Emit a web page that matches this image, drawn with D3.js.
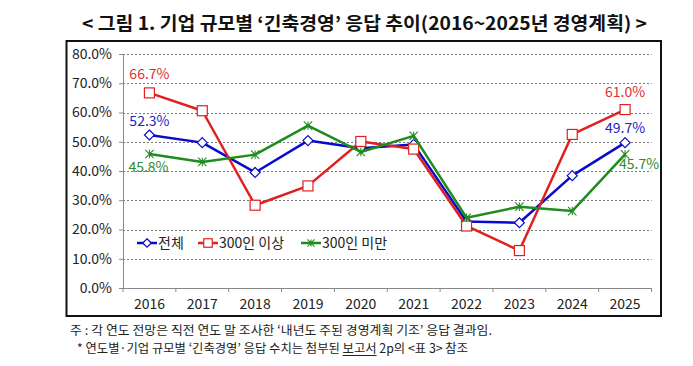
<!DOCTYPE html>
<html><head><meta charset="utf-8">
<script src="https://cdn.jsdelivr.net/npm/d3@7/dist/d3.min.js"></script>
<style>
html,body{margin:0;padding:0;background:#fff;}
svg{display:block;}
</style></head>
<body>
<svg id="c" width="693" height="366"></svg>
<script>
const years = ["2016","2017","2018","2019","2020","2021","2022","2023","2024","2025"];
const total = [52.3, 49.7, 39.5, 50.4, 47.8, 49.1, 22.7, 22.3, 38.4, 49.7];
const large = [66.7, 60.6, 28.3, 34.9, 50.1, 47.5, 21.2, 12.8, 52.5, 61.0];
const small = [45.8, 43.1, 45.6, 55.5, 46.5, 52.0, 24.0, 27.8, 26.3, 45.7];
const seriesNames = ["전체", "300인 이상", "300인 미만"];
const yTicks = [0, 10, 20, 30, 40, 50, 60, 70, 80];
const titleText = "< 그림 1. 기업 규모별 ‘긴축경영’ 응답 추이(2016~2025년 경영계획) >";
const note1 = "주 : 각 연도 전망은 직전 연도 말 조사한 ‘내년도 주된 경영계획 기조’ 응답 결과임.";
const note2 = "* 연도별·기업 규모별 ‘긴축경영’ 응답 수치는 첨부된 보고서 2p의 <표 3> 참조";
const underlined = "보고서";

const FONT = "'Noto Sans CJK KR','Noto Sans',sans-serif";
const svg = d3.select("#c");

const colors = ["#0a0acc", "#e02020", "#1e8c1e"];
const labelColors = ["#2323c0", "#e03030", "#2e8b2e"];

const L = 123, R = 651.5, T = 54, B = 288;
const x = d3.scaleBand().domain(years).range([L, R]).paddingInner(0).paddingOuter(0);
const y = d3.scaleLinear().domain([0, 80]).range([B, T]);
const cx = d => x(d) + x.bandwidth() / 2;

// title
svg.append("text").attr("x", 82).attr("y", 30)
  .attr("textLength", 565).attr("lengthAdjust", "spacingAndGlyphs")
  .attr("font-family", FONT).attr("font-size", 18).attr("font-weight", 700).attr("fill", "#111")
  .text(titleText);

// chart frame
svg.append("rect").attr("x", 66.5).attr("y", 41).attr("width", 594.5).attr("height", 275)
  .attr("fill", "#fff").attr("stroke", "#111").attr("stroke-width", 2);

// gridlines
svg.append("g").selectAll("line").data(yTicks.filter(d => d > 0)).join("line")
  .attr("x1", L).attr("x2", R).attr("y1", d => Math.round(y(d)) + 0.5).attr("y2", d => Math.round(y(d)) + 0.5)
  .attr("stroke", "#777").attr("stroke-width", 1).attr("stroke-dasharray", "2,2");

// y axis
const ya = svg.append("g").attr("transform", `translate(${L},0)`)
  .call(d3.axisLeft(y).tickValues(yTicks).tickSize(4).tickPadding(7).tickFormat(d => d.toFixed(1) + "%"));
ya.select(".domain").attr("stroke", "#888");
ya.selectAll(".tick line").attr("stroke", "#888");
ya.selectAll("text").attr("font-family", FONT).attr("font-size", 14).attr("fill", "#222");

// x axis
const xg = svg.append("g");
xg.append("line").attr("x1", L).attr("x2", R).attr("y1", B + 0.5).attr("y2", B + 0.5).attr("stroke", "#888");
const bounds = years.map(d => x(d)).concat([x(years[years.length - 1]) + x.bandwidth()]);
xg.selectAll("line.tk").data(bounds).join("line").attr("class", "tk")
  .attr("x1", d => d).attr("x2", d => d).attr("y1", B).attr("y2", B + 4).attr("stroke", "#888");
xg.selectAll("text").data(years).join("text")
  .attr("x", d => cx(d)).attr("y", 309).attr("text-anchor", "middle")
  .attr("font-family", FONT).attr("font-size", 14).attr("fill", "#222").text(d => d);

// series
const data = [total, large, small];
const line = d3.line().x((d, i) => cx(years[i])).y(d => y(d));

function marker(g, k, px, py, sc) {
  sc = sc || 1;
  if (k === 0) {
    const s = 5 * sc;
    g.append("path").attr("d", `M${px},${py-s}L${px+s},${py}L${px},${py+s}L${px-s},${py}Z`)
      .attr("fill", "#fff").attr("stroke", colors[0]).attr("stroke-width", 1.2);
  } else if (k === 1) {
    const s = 5 * sc;
    g.append("rect").attr("x", px - s).attr("y", py - s).attr("width", 2 * s).attr("height", 2 * s)
      .attr("fill", "#fff").attr("stroke", colors[1]).attr("stroke-width", 1.2);
  } else {
    const s = 4.2 * sc;
    g.append("path").attr("d", `M${px-s},${py-s}L${px+s},${py+s}M${px-s},${py+s}L${px+s},${py-s}M${px},${py-s}L${px},${py+s}`)
      .attr("fill", "none").attr("stroke", colors[2]).attr("stroke-width", 1.1);
  }
}

data.forEach((vals, k) => {
  const g = svg.append("g");
  g.append("path").datum(vals).attr("d", line).attr("fill", "none")
    .attr("stroke", colors[k]).attr("stroke-width", 2.5).attr("stroke-linejoin", "round");
  vals.forEach((v, i) => marker(g, k, cx(years[i]), y(v)));
});

// data labels
const labels = [
  {k: 1, i: 0, dx: 0, dy: -19, anchor: "middle"},
  {k: 0, i: 0, dx: 0, dy: -14, anchor: "middle"},
  {k: 2, i: 0, dx: -21, dy: 13, anchor: "start"},
  {k: 1, i: 9, dx: 0, dy: -18, anchor: "middle"},
  {k: 0, i: 9, dx: 0, dy: -15, anchor: "middle"},
  {k: 2, i: 9, dx: -6, dy: 10, anchor: "start"},
];
svg.append("g").selectAll("text").data(labels).join("text")
  .attr("x", d => cx(years[d.i]) + d.dx).attr("y", d => y(data[d.k][d.i]) + d.dy + 5)
  .attr("text-anchor", d => d.anchor)
  .attr("font-family", FONT).attr("font-size", 14).attr("fill", d => labelColors[d.k])
  .text(d => data[d.k][d.i].toFixed(1) + "%");

// legend
const legX = [137, 198, 301];
const legY = 243;
seriesNames.forEach((name, k) => {
  const g = svg.append("g");
  g.append("line").attr("x1", legX[k]).attr("x2", legX[k] + 20).attr("y1", legY).attr("y2", legY)
    .attr("stroke", colors[k]).attr("stroke-width", 2.5);
  marker(g, k, legX[k] + 10, legY, 0.85);
  g.append("text").attr("x", legX[k] + 21).attr("y", legY + 5)
    .attr("font-family", FONT).attr("font-size", 14).attr("fill", "#222").text(name);
});

// footnotes
svg.append("text").attr("x", 70).attr("y", 335)
  .attr("textLength", 422).attr("lengthAdjust", "spacingAndGlyphs")
  .attr("font-family", FONT).attr("font-size", 12.5).attr("fill", "#222").text(note1);
const n2 = svg.append("text").attr("x", 77).attr("y", 353)
  .attr("textLength", 391).attr("lengthAdjust", "spacingAndGlyphs")
  .attr("font-family", FONT).attr("font-size", 12.5).attr("fill", "#222").text(note2);
// underline under "보고서"
try {
  const node = n2.node();
  const i0 = note2.indexOf(underlined), i1 = i0 + underlined.length - 1;
  const xs = node.getStartPositionOfChar(i0).x, xe = node.getEndPositionOfChar(i1).x;
  svg.append("line").attr("x1", xs).attr("x2", xe).attr("y1", 355.5).attr("y2", 355.5)
    .attr("stroke", "#222").attr("stroke-width", 1);
} catch (e) {}
</script>
</body></html>
